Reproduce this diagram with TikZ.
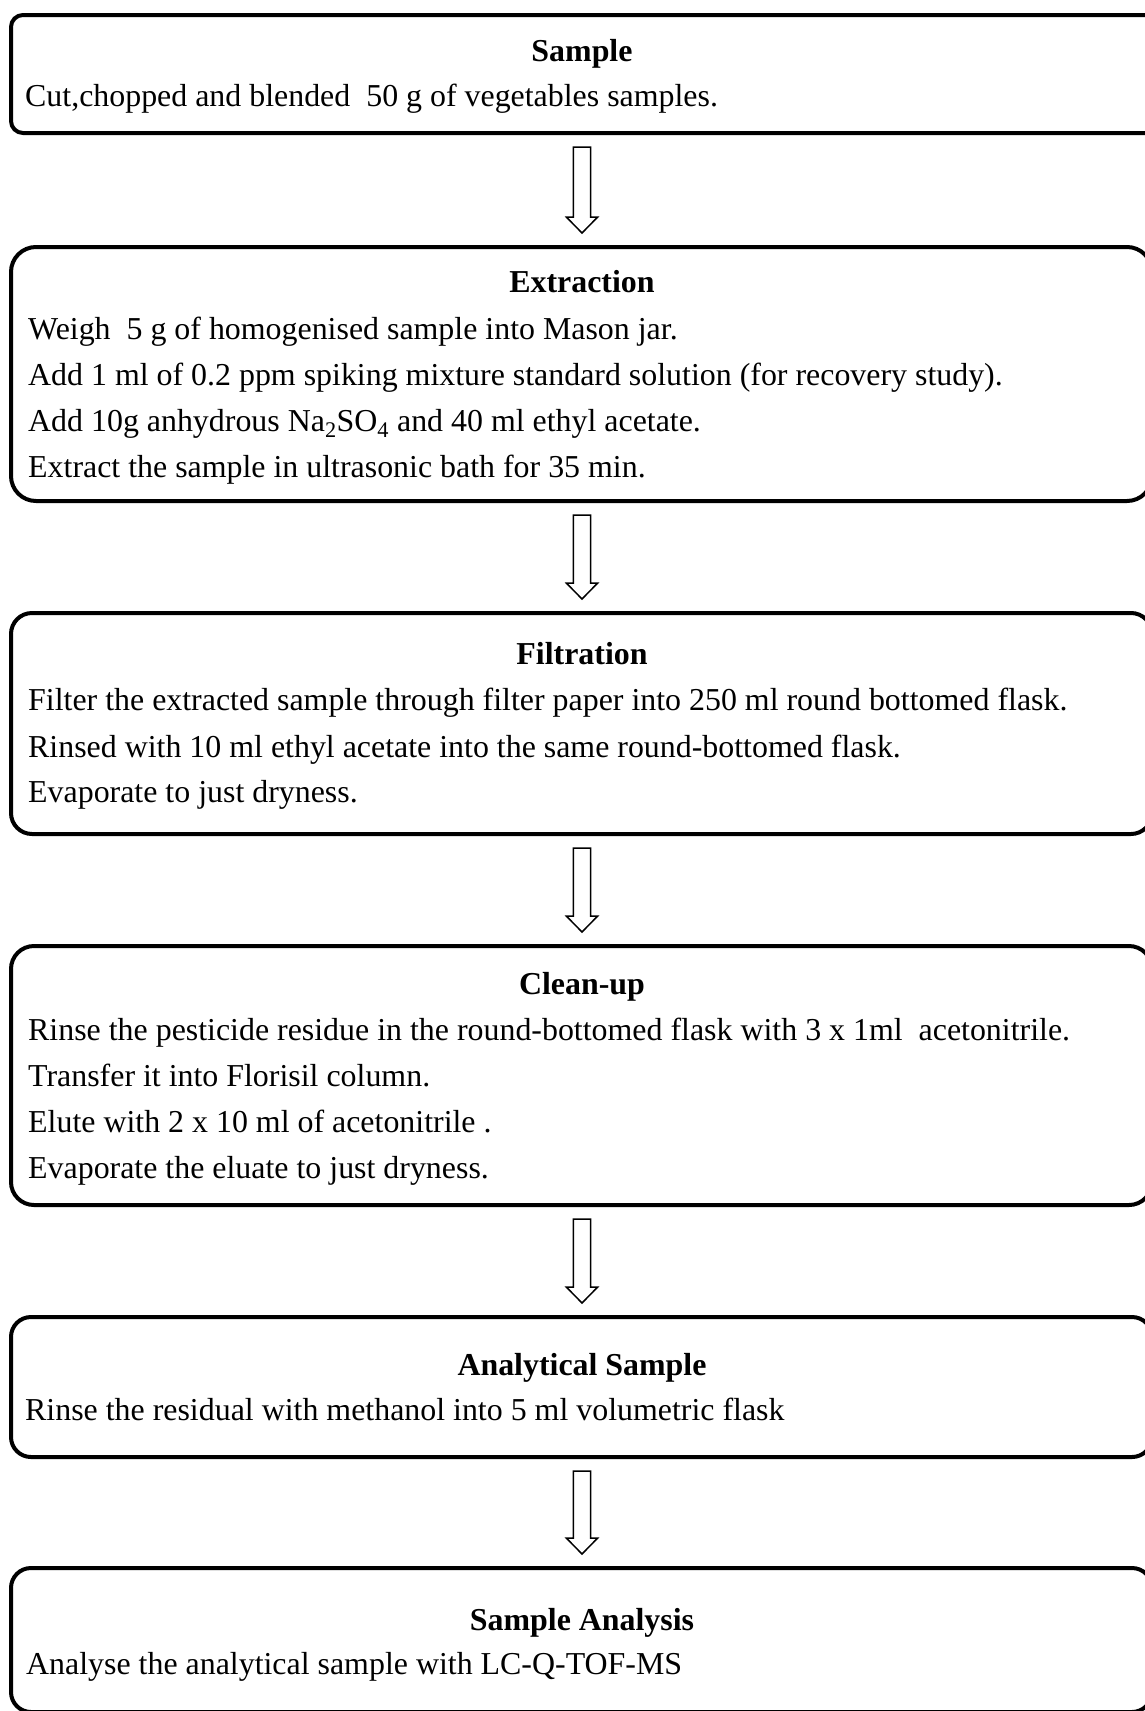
\documentclass[tikz,border=0pt]{standalone}
\usepackage{fontspec}
\setmainfont{Liberation Serif}
\usetikzlibrary{calc}
\tikzset{
  box/.style={draw, line width=4pt, minimum width=1141pt, inner sep=0pt, outer sep=0pt},
  ttl/.style={anchor=base, inner sep=0pt, font=\fontsize{31.9}{38}\selectfont\bfseries},
  txt/.style={anchor=base west, inner sep=0pt, font=\fontsize{31.9}{38}\selectfont},
  flowarr/.style={draw, line width=1.5pt, fill=white, line join=miter}
}
\newcommand{\flowarrow}[2]{%
  \draw[flowarr] let \p1=($(#1.south -| #2.north)+(0.5,14)$), \p2=($(#2.north)+(0.5,-14)$) in
    (\x1-8.7pt,\y1) -- (\x1+8.7pt,\y1) -- (\x1+8.7pt,\y2+16pt) -- (\x1+15.7pt,\y2+16pt)
    -- (\x1,\y2) -- (\x1-15.7pt,\y2+16pt) -- (\x1-8.7pt,\y2+16pt) -- cycle;}
\begin{document}
\begin{tikzpicture}[x=1pt,y=-1pt]
\useasboundingbox (0,0) rectangle (1145,1711);
\clip (0,0) rectangle (1145,1711);

% boxes (box 1 runs on past the right edge of the picture)
\node[box, rounded corners=12pt, minimum width=1159pt, minimum height=118pt] (b1) at (590.5,74) {};
\node[box, rounded corners=25pt, minimum height=254pt] (b2) at (581.5,374) {};
\node[box, rounded corners=21pt, minimum height=221pt] (b3) at (581.5,723.5) {};
\node[box, rounded corners=23pt, minimum height=259pt] (b4) at (581.5,1075.5) {};
\node[box, rounded corners=20pt, minimum height=140pt] (b5) at (581.5,1387) {};
\node[box, rounded corners=20pt, minimum height=144pt] (b6) at (581.5,1640) {};

% box 1
\node[ttl] (t1) at (582,61) {Sample};
\node[txt] (l1a) at (25,106) {Cut,chopped and blended~ 50 g of vegetables samples.};

% box 2
\node[ttl] (t2) at (582,292) {Extraction};
\node[txt] (l2a) at (28,339) {Weigh~ 5 g of homogenised sample into Mason jar.};
\node[txt] (l2b) at (28,385) {Add 1 ml of 0.2 ppm spiking mixture standard solution (for recovery study).};
\node[txt] (l2c) at (28,431) {Add 10g anhydrous Na\textsubscript{2}SO\textsubscript{4} and 40 ml ethyl acetate.};
\node[txt] (l2d) at (28,477) {Extract the sample in ultrasonic bath for 35 min.};

% box 3
\node[ttl] (t3) at (582,664) {Filtration};
\node[txt] (l3a) at (28,710) {Filter the extracted sample through filter paper into 250 ml round bottomed flask.};
\node[txt] (l3b) at (28,757) {Rinsed with 10 ml ethyl acetate into the same round-bottomed flask.};
\node[txt] (l3c) at (28,802) {Evaporate to just dryness.};

% box 4
\node[ttl] (t4) at (582,994) {Clean-up};
\node[txt] (l4a) at (28,1040) {Rinse the pesticide residue in the round-bottomed flask with 3 x 1ml~ acetonitrile.};
\node[txt] (l4b) at (28,1086) {Transfer it into Florisil column.};
\node[txt] (l4c) at (28,1132) {Elute with 2 x 10 ml of acetonitrile .};
\node[txt] (l4d) at (28,1178) {Evaporate the eluate to just dryness.};

% box 5
\node[ttl] (t5) at (582,1375) {Analytical Sample};
\node[txt] (l5a) at (25,1420) {Rinse the residual with methanol into 5 ml volumetric flask};

% box 6
\node[ttl] (t6) at (582,1630) {Sample Analysis};
\node[txt] (l6a) at (26,1674) {Analyse the analytical sample with LC-Q-TOF-MS};

% arrows
\flowarrow{b1}{b2}
\flowarrow{b2}{b3}
\flowarrow{b3}{b4}
\flowarrow{b4}{b5}
\flowarrow{b5}{b6}
\end{tikzpicture}
\end{document}
